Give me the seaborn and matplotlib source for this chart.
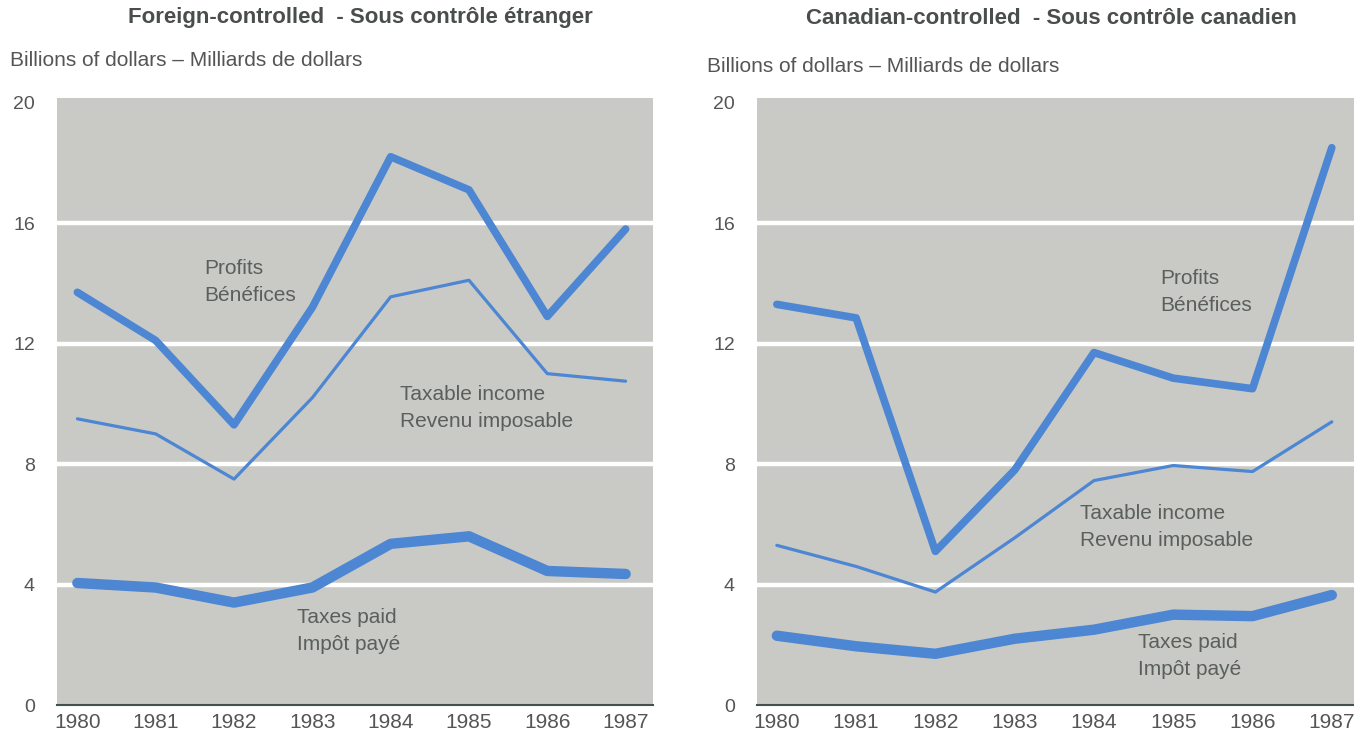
import pandas as pd
import matplotlib.pyplot as plt
import seaborn as sns

sns.set_theme(style="white")
plt.rcParams["font.family"] = ["Liberation Sans", "DejaVu Sans"]

years = [1980, 1981, 1982, 1983, 1984, 1985, 1986, 1987]

# Foreign-controlled, billions of dollars
foreign_profits = [13.7, 12.1, 9.3, 13.2, 18.2, 17.1, 12.9, 15.8]
foreign_taxable = [9.5, 9.0, 7.5, 10.2, 13.55, 14.1, 11.0, 10.75]
foreign_taxes = [4.05, 3.9, 3.4, 3.9, 5.35, 5.6, 4.45, 4.35]

# Canadian-controlled, billions of dollars
canadian_profits = [13.3, 12.85, 5.1, 7.8, 11.7, 10.85, 10.5, 18.5]
canadian_taxable = [5.3, 4.6, 3.75, 5.55, 7.45, 7.95, 7.75, 9.4]
canadian_taxes = [2.3, 1.95, 1.7, 2.2, 2.5, 3.0, 2.95, 3.65]

series_names = ["Profits", "Taxable income", "Taxes paid"]
line_widths = {"Profits": 5.5, "Taxable income": 2.3, "Taxes paid": 7.5}

BG = "#c9cac6"
BLUE = "#4d86d2"
TXT = "#5b5f5b"


def long_frame(profits, taxable, taxes):
    rows = []
    for name, vals in zip(series_names, [profits, taxable, taxes]):
        for y, v in zip(years, vals):
            rows.append({"year": y, "value": v, "series": name})
    return pd.DataFrame(rows)


fig = plt.figure(figsize=(13.54, 7.38), dpi=100)
ax1 = fig.add_axes([0.0421, 0.0447, 0.4402, 0.8225])
ax2 = fig.add_axes([0.5591, 0.0447, 0.4409, 0.8225])

panels = [
    (ax1, long_frame(foreign_profits, foreign_taxable, foreign_taxes), (1979.74, 1987.35)),
    (ax2, long_frame(canadian_profits, canadian_taxable, canadian_taxes), (1979.75, 1987.28)),
]

for ax, df, xlim in panels:
    ax.set_facecolor(BG)
    for g in [4, 8, 12, 16]:
        ax.axhline(g, color="white", lw=3.2, zorder=1)
    sns.lineplot(data=df, x="year", y="value", size="series", sizes=line_widths,
                 color=BLUE, legend=False, ax=ax, zorder=3)
    ax.set_xlim(*xlim)
    ax.set_ylim(0, 20.15)
    ax.set_xticks(years)
    ax.set_xticklabels([str(y) for y in years])
    ax.set_yticks([0, 4, 8, 12, 16, 20])
    ax.set_xlabel("")
    ax.set_ylabel("")
    for s in ["top", "right", "left"]:
        ax.spines[s].set_visible(False)
    ax.spines["bottom"].set_color("#44524a")
    ax.spines["bottom"].set_linewidth(1.5)
    ax.tick_params(axis="x", direction="in", length=14, width=1.6, color="#44524a",
                   labelsize=15, labelcolor="#555555", pad=6)
    ax.tick_params(axis="y", length=0, labelsize=14, labelcolor="#555555", pad=16)

# series labels
lab = dict(fontsize=15, color=TXT, va="center", linespacing=1.55)
ax1.text(1981.62, 14.05, "Profits\nBénéfices", **lab)
ax1.text(1984.12, 9.85, "Taxable income\nRevenu imposable", **lab)
ax1.text(1982.8, 2.45, "Taxes paid\nImpôt payé", **lab)

ax2.text(1984.84, 13.7, "Profits\nBénéfices", **lab)
ax2.text(1983.82, 5.9, "Taxable income\nRevenu imposable", **lab)
ax2.text(1984.55, 1.63, "Taxes paid\nImpôt payé", **lab)

# titles and unit labels
fig.text(360 / 1354, 1 - 18 / 738, "Foreign-controlled  - Sous contrôle étranger",
         ha="center", va="center", fontsize=16, fontweight="bold", color="#4a4e4a")
fig.text(1051 / 1354, 1 - 18 / 738, "Canadian-controlled  - Sous contrôle canadien",
         ha="center", va="center", fontsize=16, fontweight="bold", color="#4a4e4a")
fig.text(10 / 1354, 1 - 60 / 738, "Billions of dollars – Milliards de dollars",
         ha="left", va="center", fontsize=15, color="#555555")
fig.text(707 / 1354, 1 - 67 / 738, "Billions of dollars – Milliards de dollars",
         ha="left", va="center", fontsize=15, color="#555555")

fig.savefig("out.png", dpi=100)
